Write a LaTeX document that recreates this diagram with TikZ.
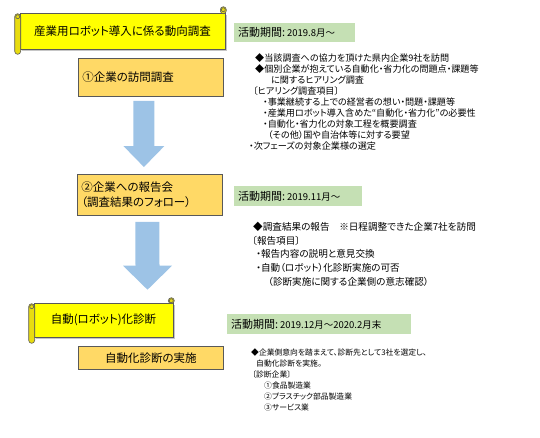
\documentclass[tikz,border=0pt]{standalone}
\usepackage{fontspec}
\setmainfont[RawFeature=+palt]{Noto Sans CJK JP}
\usetikzlibrary{calc}

\definecolor{scrollyellow}{HTML}{FFFF00}
\definecolor{rollyellow}{HTML}{E8DC10}
\definecolor{boxorange}{HTML}{FFD966}
\definecolor{periodgreen}{HTML}{C5E0B4}
\definecolor{arrowblue}{HTML}{9DC3E6}
\definecolor{edgegray}{HTML}{595959}

\begin{document}
\begin{tikzpicture}[x=1pt, y=-1pt,
  scrollbody/.style={fill=scrollyellow, draw=edgegray, line width=0.6pt, inner sep=0pt, font=\fontsize{11.5}{13}\selectfont},
  rollpart/.style={fill=rollyellow, draw=edgegray, line width=0.6pt},
  stagebox/.style={fill=boxorange, draw=edgegray, line width=0.8pt, inner sep=4pt, font=\fontsize{11.5}{15}\selectfont},
  period/.style={fill=periodgreen, inner sep=4pt, anchor=north west, align=left, font=\fontsize{11}{13}\selectfont},
  notes/.style={anchor=north west, inner sep=0pt, align=left}]

  \useasboundingbox (0,0) rectangle (540,437);

  % Scroll title of the survey
  \fill[gray!45] (22,15) rectangle (227,51);
  \node[scrollbody, minimum width=205, minimum height=36] (survey) at (122.5,31) {産業用ロボット導入に係る動向調査};
  \draw[rollpart, rounded corners=3] ($(survey.north west)+(-5,1)$) rectangle ($(survey.south west)+(1,5)$);
  \draw[rollpart] ($(survey.north west)+(-2,4)$) circle (2);
  \draw[rollpart, rounded corners=3] ($(survey.north east)+(-5,-6)$) rectangle ($(survey.north east)+(1,1)$);
  \draw[rollpart] ($(survey.north east)+(-2,-3)$) circle (2);

  % Stage boxes
  \node[stagebox, text width=137, align=left, minimum height=38, anchor=north west] (visit) at (78,58) {①企業の訪問調査};
  \node[stagebox, text width=137, align=left, minimum height=41, anchor=north west] (report) at (77,174) {②企業への報告会\\（調査結果のフォロー）};

  % Scroll title of the diagnosis
  \fill[gray!45] (36,305) rectangle (175,339);
  \node[scrollbody, minimum width=139, minimum height=34] (autodiag) at (103.5,320) {自動(ロボット)化診断};
  \draw[rollpart, rounded corners=3] ($(autodiag.north west)+(-5,1)$) rectangle ($(autodiag.south west)+(1,6)$);
  \draw[rollpart] ($(autodiag.north west)+(-2,4)$) circle (2);
  \draw[rollpart, rounded corners=3] ($(autodiag.north east)+(-5,-5)$) rectangle ($(autodiag.north east)+(1,1)$);
  \draw[rollpart] ($(autodiag.north east)+(-2,-2)$) circle (2);

  \node[stagebox, minimum width=145, minimum height=23, anchor=north west] (diagnose) at (78,346) {自動化診断の実施};

  % Block arrows between the stages
  \coordinate (flowAtop) at ($(visit.south)+(-7,4)$);
  \coordinate (flowAtip) at ($(report.north)+(-6,-7)$);
  \fill[arrowblue] ($(flowAtop)+(-10.5,0)$) -- ($(flowAtip)+(-10.5,-21)$) -- ($(flowAtip)+(-20.5,-21)$)
    -- (flowAtip) -- ($(flowAtip)+(20.5,-21)$) -- ($(flowAtip)+(10.5,-21)$) -- ($(flowAtop)+(10.5,0)$) -- cycle;
  \coordinate (flowBtop) at ($(report.south)+(-2.5,6)$);
  \coordinate (flowBtip) at ($(autodiag.north)+(44,-13)$);
  \fill[arrowblue] ($(flowBtop)+(-12,0)$) -- ($(flowBtip)+(-12,-24)$) -- ($(flowBtip)+(-24.5,-24)$)
    -- (flowBtip) -- ($(flowBtip)+(24.5,-24)$) -- ($(flowBtip)+(12,-24)$) -- ($(flowBtop)+(12,0)$) -- cycle;

  % Activity periods
  \node[period, text width=113, minimum height=19] (periodA) at (234,23) {活動期間:\,{\fontsize{9.5}{13}\selectfont 2019.8月～}};
  \node[period, text width=120, minimum height=20] (periodB) at (234,186) {活動期間:\,{\fontsize{9.5}{13}\selectfont 2019.11月～}};
  \node[period, text width=176, minimum height=20] (periodC) at (227,314) {活動期間:\,{\fontsize{9.5}{13}\selectfont 2019.12月～2020.2月末}};

  % Notes beside each stage
  \node[notes, font=\fontsize{9.1}{11.1}\selectfont] (notesA) at (249,53) {%
    \hspace*{6pt}◆当該調査への協力を頂けた県内企業9社を訪問\\
    \hspace*{6pt}◆個別企業が抱えている自動化・省力化の問題点・課題等\\
    \hspace*{22pt}に関するヒアリング調査\\
    \hspace*{4pt}〔ヒアリング調査項目〕\\
    \hspace*{14pt}・事業継続する上での経営者の想い・問題・課題等\\
    \hspace*{14pt}・産業用ロボット導入含めた“自動化・省力化”の必要性\\
    \hspace*{14pt}・自動化・省力化の対象工程を概要調査\\
    \hspace*{19pt}（その他）国や自治体等に対する要望\\
    ・次フェーズの対象企業様の選定};
  \node[notes, font=\fontsize{9.6}{13.7}\selectfont] (notesB) at (250,222) {%
    \hspace*{3pt}◆調査結果の報告　※日程調整できた企業7社を訪問\\
    \hspace*{2pt}〔報告項目〕\\
    \hspace*{6pt}・報告内容の説明と意見交換\\
    \hspace*{6pt}・自動（ロボット）化診断実施の可否\\
    \hspace*{18pt}（診断実施に関する企業側の意志確認）};
  \node[notes, font=\fontsize{7.8}{11}\selectfont] (notesC) at (251,349) {%
    ◆企業側意向を踏まえて、診断先として3社を選定し、\\
    \hspace*{5pt}自動化診断を実施。\\
    \hspace*{1pt}〔診断企業〕\\
    \hspace*{13pt}①食品製造業\\
    \hspace*{13pt}②プラスチック部品製造業\\
    \hspace*{13pt}③サービス業};

\end{tikzpicture}
\end{document}
